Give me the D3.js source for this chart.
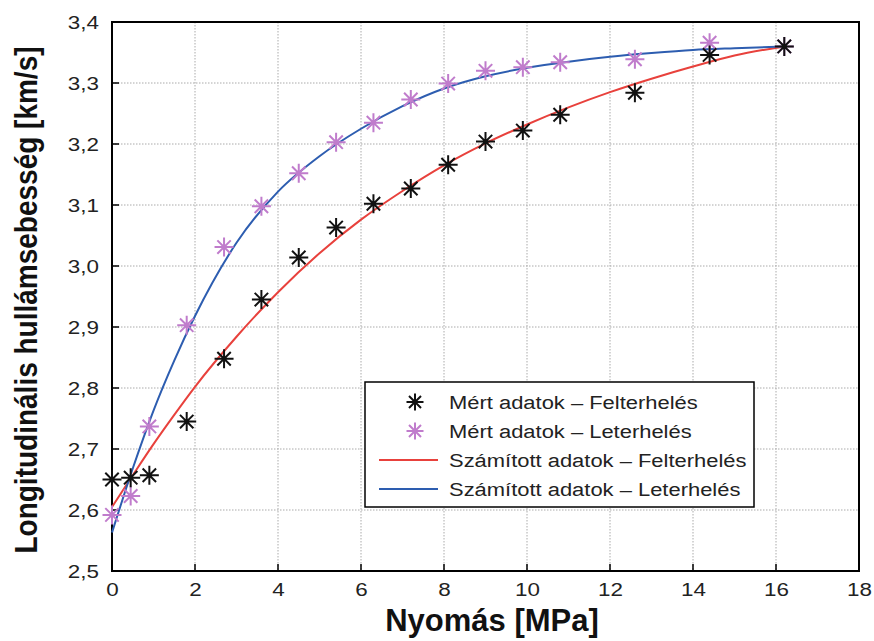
<!DOCTYPE html>
<html>
<head>
<meta charset="utf-8">
<script src="https://cdn.jsdelivr.net/npm/d3@7"></script>
<style>
  html, body { margin: 0; padding: 0; background: #fff; }
  text { font-family: "Liberation Sans", Arial, sans-serif; }
</style>
</head>
<body>
<svg id="chart" width="874" height="641"></svg>
<script>
// ---- data ----
const pressure = [0, 0.45, 0.9, 1.8, 2.7, 3.6, 4.5, 5.4, 6.3, 7.2, 8.1, 9.0, 9.9, 10.8, 12.6, 14.4, 16.2];
const measuredLoading = [2.650, 2.653, 2.657, 2.745, 2.848, 2.945, 3.014, 3.063, 3.102, 3.127, 3.166, 3.204, 3.222, 3.248, 3.284, 3.346, 3.360];
const measuredUnloading = [2.592, 2.623, 2.737, 2.903, 3.031, 3.098, 3.152, 3.203, 3.235, 3.273, 3.299, 3.320, 3.326, 3.334, 3.339, 3.366, 3.360];

const curvePressure = [0, 0.5, 1, 1.5, 2, 3, 4, 5, 6, 7, 8, 9, 10, 11, 12, 13, 14, 15, 16.2];
const calcLoading   = [2.605, 2.657, 2.708, 2.756, 2.802, 2.884, 2.957, 3.021, 3.076, 3.123, 3.165, 3.201, 3.232, 3.260, 3.285, 3.307, 3.327, 3.345, 3.360];
const calcUnloading = [2.563, 2.668, 2.763, 2.845, 2.918, 3.038, 3.122, 3.180, 3.225, 3.262, 3.291, 3.311, 3.325, 3.335, 3.343, 3.349, 3.354, 3.357, 3.360];

const xTicks = [0, 2, 4, 6, 8, 10, 12, 14, 16, 18];
const yTicks = [2.5, 2.6, 2.7, 2.8, 2.9, 3.0, 3.1, 3.2, 3.3, 3.4];
const xTitle = "Nyomás [MPa]";
const yTitle = "Longitudinális hullámsebesség [km/s]";
const legendLabels = ["Mért adatok – Felterhelés", "Mért adatok – Leterhelés", "Számított adatok – Felterhelés", "Számított adatok – Leterhelés"];

// ---- layout ----
const svg = d3.select("#chart");
const L = 112, R = 859, T = 22, B = 571;
const x = d3.scaleLinear().domain([0, 18]).range([L, R]);
const y = d3.scaleLinear().domain([2.5, 3.4]).range([B, T]);

const BLACK = "#111", PINK = "#c07ccc", RED = "#e8413c", BLUE = "#2d5db0";
const STRETCH = 1.18;
const fmt = d => d3.format(".1f")(d).replace(".", ",");

// grid
const grid = svg.append("g");
grid.selectAll(".gx").data(xTicks.slice(1, -1)).enter().append("line")
  .attr("x1", d => x(d)).attr("x2", d => x(d)).attr("y1", T).attr("y2", B)
  .attr("stroke", "#aaa").attr("stroke-width", 1).attr("stroke-dasharray", "1.5,1.5");
grid.selectAll(".gy").data(yTicks.slice(1, -1)).enter().append("line")
  .attr("x1", L).attr("x2", R).attr("y1", d => y(d)).attr("y2", d => y(d))
  .attr("stroke", "#aaa").attr("stroke-width", 1).attr("stroke-dasharray", "1.5,1.5");

// axes
const xAxis = d3.axisBottom(x).tickValues(xTicks).tickSize(0).tickPadding(0).tickFormat(d3.format("d"));
const yAxis = d3.axisLeft(y).tickValues(yTicks).tickSize(0).tickPadding(0).tickFormat(fmt);
const gx = svg.append("g").attr("transform", `translate(0,${B})`).call(xAxis);
const gy = svg.append("g").attr("transform", `translate(${L},0)`).call(yAxis);
[gx, gy].forEach(g => {
  g.select(".domain").remove();
  g.selectAll("text").attr("font-size", 19).attr("fill", "#222")
    .attr("font-family", "'Liberation Sans', Arial, sans-serif");
});
gx.selectAll("text").attr("dy", null).attr("y", 25).attr("transform", `scale(${STRETCH},1)`);
gy.selectAll("text").attr("x", -13 / STRETCH).attr("transform", `scale(${STRETCH},1)`);

// inward ticks
svg.append("g").selectAll("line").data(xTicks).enter().append("line")
  .attr("x1", d => x(d)).attr("x2", d => x(d)).attr("y1", B).attr("y2", B - 7)
  .attr("stroke", "#000").attr("stroke-width", 1.5);
svg.append("g").selectAll("line").data(yTicks).enter().append("line")
  .attr("x1", L).attr("x2", L + 7).attr("y1", d => y(d)).attr("y2", d => y(d))
  .attr("stroke", "#000").attr("stroke-width", 1.5);

// frame
svg.append("rect").attr("x", L).attr("y", T).attr("width", R - L).attr("height", B - T)
  .attr("fill", "none").attr("stroke", "#000").attr("stroke-width", 2);

// titles
svg.append("text").attr("x", 492).attr("y", 631).attr("text-anchor", "middle")
  .attr("font-size", 31).attr("font-weight", "bold").attr("fill", "#111").text(xTitle);
svg.append("text").attr("transform", "translate(37,300) rotate(-90) scale(1,1.12)").attr("text-anchor", "middle")
  .attr("font-size", 28).attr("font-weight", "bold").attr("fill", "#111").text(yTitle);

// curves
const line = d3.line().x(d => x(d[0])).y(d => y(d[1])).curve(d3.curveMonotoneX);
svg.append("path").datum(curvePressure.map((p, i) => [p, calcLoading[i]]))
  .attr("d", line).attr("fill", "none").attr("stroke", RED).attr("stroke-width", 2);
svg.append("path").datum(curvePressure.map((p, i) => [p, calcUnloading[i]]))
  .attr("d", line).attr("fill", "none").attr("stroke", BLUE).attr("stroke-width", 2);

// asterisk marker (8 arms)
function star(cx, cy, r) {
  const d = r * Math.SQRT1_2;
  return `M${cx - r},${cy}L${cx + r},${cy}M${cx},${cy - r}L${cx},${cy + r}` +
         `M${cx - d},${cy - d}L${cx + d},${cy + d}M${cx - d},${cy + d}L${cx + d},${cy - d}`;
}
svg.append("g").selectAll("path").data(pressure.map((p, i) => [p, measuredUnloading[i]])).enter()
  .append("path").attr("d", d => star(x(d[0]), y(d[1]), 9.5))
  .attr("stroke", PINK).attr("stroke-width", 2).attr("fill", "none");
svg.append("g").selectAll("path").data(pressure.map((p, i) => [p, measuredLoading[i]])).enter()
  .append("path").attr("d", d => star(x(d[0]), y(d[1]), 9.5))
  .attr("stroke", BLACK).attr("stroke-width", 2).attr("fill", "none");

// legend
const lg = svg.append("g");
lg.append("rect").attr("x", 365).attr("y", 382).attr("width", 389).attr("height", 125)
  .attr("fill", "#fff").attr("stroke", "#000").attr("stroke-width", 1.5);
const rowsY = [402, 431, 460, 489];
legendLabels.forEach((lab, i) => {
  const yy = rowsY[i];
  if (i < 2) {
    lg.append("path").attr("d", star(415, yy, 8.5)).attr("stroke", i === 0 ? BLACK : PINK)
      .attr("stroke-width", 2).attr("fill", "none");
  } else {
    lg.append("line").attr("x1", 379).attr("x2", 438).attr("y1", yy).attr("y2", yy)
      .attr("stroke", i === 2 ? RED : BLUE).attr("stroke-width", 2);
  }
  lg.append("text").attr("transform", `translate(449,${yy}) scale(${STRETCH},1)`).attr("dy", "0.36em")
    .attr("font-size", 18.6).attr("fill", "#222").text(lab);
});
</script>
</body>
</html>
